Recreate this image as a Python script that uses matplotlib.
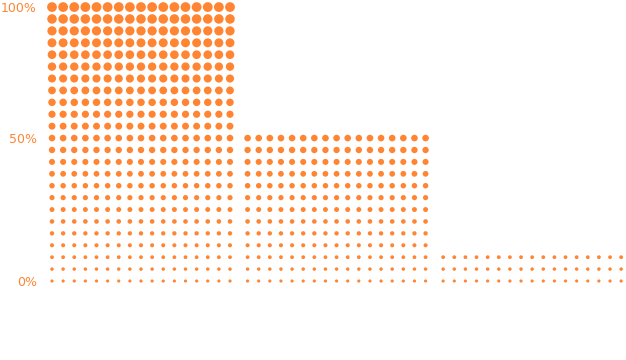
import numpy as np
import matplotlib
matplotlib.use("Agg")
import matplotlib.pyplot as plt

# data
categories = ["A", "B", "C"]
values = [100, 50, 10]          # percent
tick_pcts = [0, 50, 100]
tick_labels = ["0%", "50%", "100%"]

ORANGE = "#FF8533"
N_COLS = 17        # dots per row in each group
TOP_ROW = 23       # row index that stands for 100%
GROUP_STEP = 17.58 # horizontal offset between groups, in dot units

fig = plt.figure(figsize=(6.26, 3.6), dpi=100)
W, H = 626, 360
ux = 11.125   # px per dot column
uy = 11.91    # px per dot row
left_px = 52 - ux / 2
bottom_px = (H - 281) - uy / 2
xmax = (len(values) - 1) * GROUP_STEP + N_COLS - 0.5
ax = fig.add_axes([left_px / W, bottom_px / H,
                   (xmax + 0.5) * ux / W, (TOP_ROW + 1) * uy / H])

for j, v in enumerate(values):
    n_rows = int(round(v * TOP_ROW / 100)) + 1
    rows = np.arange(n_rows)
    cols = np.arange(N_COLS) + j * GROUP_STEP
    xx, yy = np.meshgrid(cols, rows)
    # dot diameter grows with height: ~3px at bottom, ~10px at top
    d_px = 3.2 + 6.6 * yy / TOP_ROW
    s = (d_px * 0.72) ** 2
    ax.scatter(xx.ravel(), yy.ravel(), s=s.ravel(), color=ORANGE,
               linewidths=0)

ax.set_xlim(-0.5, xmax)
ax.set_ylim(-0.5, TOP_ROW + 0.5)
ax.set_yticks([round(p * TOP_ROW / 100) for p in tick_pcts])
ax.set_yticklabels(tick_labels)
ax.set_xticks([])
ax.tick_params(axis="y", length=0, pad=7, labelsize=9, labelcolor=ORANGE)
for sp in ax.spines.values():
    sp.set_visible(False)

fig.savefig("out.png", dpi=100)
